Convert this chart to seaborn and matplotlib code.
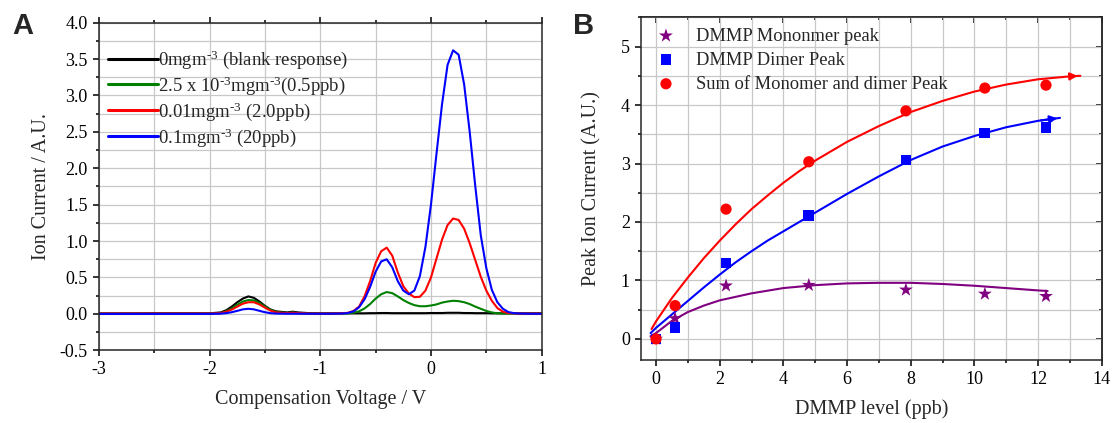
import numpy as np
import pandas as pd
import matplotlib
matplotlib.use("Agg")
import matplotlib.pyplot as plt
from matplotlib.ticker import MultipleLocator
import seaborn as sns

# ---- panel A: ion current vs compensation voltage ----
cv = [-3.0, -2.5, -2.0, -1.9, -1.85, -1.8, -1.75, -1.7, -1.65, -1.6,
      -1.55, -1.5, -1.45, -1.4, -1.3, -1.25, -1.2, -1.1, -1.0, -0.9,
      -0.8, -0.75, -0.7, -0.65, -0.6, -0.55, -0.5, -0.45, -0.4, -0.35,
      -0.3, -0.25, -0.2, -0.15, -0.1, -0.05, 0.0, 0.05, 0.1, 0.15,
      0.2, 0.25, 0.3, 0.35, 0.4, 0.45, 0.5, 0.55, 0.6, 0.65,
      0.7, 0.75, 0.8, 0.9, 1.0]

blank = [0.005, 0.008, 0.008, 0.02, 0.05, 0.10, 0.16, 0.21, 0.24, 0.22,
         0.17, 0.11, 0.06, 0.035, 0.02, 0.03, 0.02, 0.01, 0.008, 0.008,
         0.008, 0.008, 0.008, 0.008, 0.008, 0.01, 0.01, 0.012, 0.012, 0.01,
         0.01, 0.01, 0.01, 0.01, 0.01, 0.01, 0.012, 0.012, 0.012, 0.015,
         0.015, 0.015, 0.012, 0.012, 0.01, 0.01, 0.01, 0.008, 0.008, 0.008,
         0.008, 0.008, 0.008, 0.008, 0.008]

ppb05 = [0.005, 0.005, 0.005, 0.01, 0.035, 0.075, 0.125, 0.17, 0.19, 0.185,
         0.15, 0.10, 0.055, 0.025, 0.012, 0.02, 0.01, 0.005, 0.005, 0.005,
         0.005, 0.008, 0.015, 0.035, 0.075, 0.135, 0.21, 0.27, 0.30, 0.285,
         0.24, 0.19, 0.15, 0.12, 0.105, 0.105, 0.115, 0.13, 0.155, 0.17,
         0.18, 0.175, 0.16, 0.135, 0.10, 0.07, 0.04, 0.02, 0.008, 0.005,
         0.005, 0.005, 0.005, 0.005, 0.005]

ppb2 = [0.005, 0.005, 0.005, 0.01, 0.03, 0.06, 0.10, 0.14, 0.16, 0.16,
        0.13, 0.085, 0.045, 0.02, 0.01, 0.015, 0.01, 0.005, 0.005, 0.005,
        0.008, 0.015, 0.04, 0.10, 0.24, 0.45, 0.70, 0.86, 0.91, 0.80,
        0.57, 0.38, 0.28, 0.23, 0.235, 0.32, 0.50, 0.76, 1.02, 1.22,
        1.31, 1.29, 1.17, 0.97, 0.74, 0.51, 0.32, 0.18, 0.08, 0.03,
        0.012, 0.008, 0.005, 0.005, 0.005]

ppb20 = [0.0, 0.0, 0.0, 0.003, 0.01, 0.023, 0.042, 0.062, 0.07, 0.062,
         0.042, 0.023, 0.01, 0.004, 0.002, 0.002, 0.002, 0.002, 0.002, 0.002,
         0.005, 0.012, 0.035, 0.09, 0.20, 0.37, 0.58, 0.72, 0.75, 0.64,
         0.45, 0.32, 0.27, 0.32, 0.52, 0.92, 1.50, 2.20, 2.88, 3.42,
         3.62, 3.56, 3.15, 2.50, 1.76, 1.08, 0.63, 0.33, 0.16, 0.07,
         0.025, 0.01, 0.005, 0.002, 0.002]

labels_a = [r"0mgm$^{\text{-3}}$ (blank response)",
            r"2.5 x 10$^{\text{-3}}$mgm$^{\text{-3}}$(0.5ppb)",
            r"0.01mgm$^{\text{-3}}$ (2.0ppb)",
            r"0.1mgm$^{\text{-3}}$ (20ppb)"]
colors_a = ["#000000", "#008000", "#ff0000", "#0000ff"]

# ---- panel B: peak ion current vs DMMP level ----
level = [0, 0.6, 2.2, 4.8, 7.85, 10.33, 12.25]
monomer = [0.0, 0.35, 0.91, 0.92, 0.84, 0.77, 0.73]
dimer = [0.0, 0.20, 1.30, 2.11, 3.06, 3.52, 3.61]
total = [0.0, 0.57, 2.22, 3.03, 3.90, 4.29, 4.34]

fit_sum_x = [-0.14, 0, 0.5, 1, 1.5, 2, 2.5, 3, 3.5, 4, 4.5, 5, 6, 7, 8, 9,
             10, 11, 12, 13, 13.33]
fit_sum_y = [0.17, 0.30, 0.70, 1.05, 1.38, 1.68, 1.96, 2.22, 2.45, 2.67, 2.87,
             3.05, 3.37, 3.64, 3.88, 4.07, 4.23, 4.35, 4.44, 4.49, 4.50]
fit_dim_x = [-0.17, 0, 0.5, 1, 1.5, 2, 2.5, 3, 3.5, 4, 5, 6, 7, 8, 9, 10,
             11, 12, 12.69]
fit_dim_y = [0.10, 0.19, 0.42, 0.65, 0.88, 1.10, 1.31, 1.50, 1.68, 1.84, 2.16,
             2.48, 2.78, 3.06, 3.29, 3.47, 3.62, 3.73, 3.78]
fit_mon_x = [-0.17, 0, 0.5, 1, 1.5, 2, 3, 4, 5, 6, 7, 8, 9, 10, 11, 12, 12.3]
fit_mon_y = [0.05, 0.10, 0.31, 0.46, 0.57, 0.66, 0.78, 0.87, 0.92, 0.95,
             0.96, 0.96, 0.94, 0.91, 0.87, 0.83, 0.82]

purple = "#800080"

sns.set_theme(style="ticks")
plt.rcParams["font.family"] = ["Liberation Serif", "DejaVu Serif"]
plt.rcParams["mathtext.fontset"] = "custom"
plt.rcParams["mathtext.rm"] = "Liberation Serif"
plt.rcParams["mathtext.it"] = "Liberation Serif:italic"
plt.rcParams["axes.unicode_minus"] = False
plt.rcParams["axes.linewidth"] = 1.1
plt.rcParams["xtick.color"] = "black"
plt.rcParams["ytick.color"] = "black"

fig = plt.figure(figsize=(11.17, 4.23), dpi=100)
ax1 = fig.add_axes([0.0886, 0.1719, 0.3963, 0.7745])
ax2 = fig.add_axes([0.5739, 0.1489, 0.4124, 0.8102])

grid_kw = dict(color="#c8c8c8", linewidth=0.9)

# panel A
df_a = pd.DataFrame({"cv": cv, "blank": blank, "ppb05": ppb05,
                     "ppb2": ppb2, "ppb20": ppb20})
for col, lab, c in zip(["blank", "ppb05", "ppb2", "ppb20"], labels_a, colors_a):
    sns.lineplot(data=df_a, x="cv", y=col, ax=ax1, color=c, linewidth=1.5,
                 label=lab, sort=False)

ax1.set_xlim(-3, 1)
ax1.set_ylim(-0.5, 4.0)
ax1.xaxis.set_major_locator(MultipleLocator(1))
ax1.xaxis.set_minor_locator(MultipleLocator(0.5))
ax1.yaxis.set_major_locator(MultipleLocator(0.5))
ax1.yaxis.set_minor_locator(MultipleLocator(0.25))
ax1.yaxis.set_major_formatter(matplotlib.ticker.FormatStrFormatter("%.1f"))
ax1.grid(True, which="both", **grid_kw)
ax1.set_axisbelow(True)
ax1.tick_params(which="both", direction="out", top=True, right=False,
                labelsize=13, width=1.1)
ax1.tick_params(which="major", length=4.5)
ax1.tick_params(which="minor", length=2.5)
ax1.set_xlabel("Compensation Voltage / V", fontsize=14.5, labelpad=8)
ax1.set_ylabel("Ion Current / A.U.", fontsize=14.5, labelpad=6)
leg1 = ax1.legend(loc="upper left", bbox_to_anchor=(0.02, 0.92), frameon=False,
                  fontsize=13.5, handlelength=2.7, handletextpad=0.0,
                  labelspacing=0.17, borderpad=0, borderaxespad=0)
for h in leg1.get_lines():
    h.set_linewidth(2.2)

# panel B
sns.lineplot(x=fit_sum_x, y=fit_sum_y, ax=ax2, color="#ff0000", linewidth=1.5, sort=False)
sns.lineplot(x=fit_dim_x, y=fit_dim_y, ax=ax2, color="#0000ff", linewidth=1.5, sort=False)
sns.lineplot(x=fit_mon_x, y=fit_mon_y, ax=ax2, color=purple, linewidth=1.5, sort=False)
for fx, fy, c in [(fit_sum_x, fit_sum_y, "#ff0000"), (fit_dim_x, fit_dim_y, "#0000ff")]:
    ax2.annotate("", xy=(fx[-1], fy[-1]), xytext=(fx[-2], fy[-2]),
                 arrowprops=dict(arrowstyle="-|>", color=c, lw=1.5, mutation_scale=11))

sns.scatterplot(x=level, y=monomer, ax=ax2, marker="*", s=110, color=purple,
                edgecolor="none", label="DMMP Mononmer peak", zorder=4)
sns.scatterplot(x=level, y=dimer, ax=ax2, marker="s", s=60, color="#0000ff",
                edgecolor="none", label="DMMP Dimer Peak", zorder=4)
sns.scatterplot(x=level, y=total, ax=ax2, marker="o", s=65, color="#ff0000",
                edgecolor="none", label="Sum of Monomer and dimer Peak", zorder=4)

ax2.set_xlim(-0.47, 14)
ax2.set_ylim(-0.36, 5.5)
ax2.xaxis.set_major_locator(MultipleLocator(2))
ax2.xaxis.set_minor_locator(MultipleLocator(1))
ax2.yaxis.set_major_locator(MultipleLocator(1))
ax2.yaxis.set_minor_locator(MultipleLocator(0.5))
ax2.grid(True, which="both", **grid_kw)
ax2.set_axisbelow(True)
ax2.tick_params(which="both", direction="out", labelsize=13, width=1.1)
ax2.tick_params(which="major", length=4.5)
ax2.tick_params(which="minor", length=2.5)
sx = ax2.secondary_xaxis("top")
sy = ax2.secondary_yaxis("right")
for sec in (sx, sy):
    sec.tick_params(which="both", direction="in", width=1.1, length=4.5)
    sec.tick_params(which="minor", length=2.5)
sx.xaxis.set_major_locator(MultipleLocator(2))
sx.xaxis.set_minor_locator(MultipleLocator(1))
sy.yaxis.set_major_locator(MultipleLocator(1))
sy.yaxis.set_minor_locator(MultipleLocator(0.5))
sx.set_xticklabels([])
sy.set_yticklabels([])
ax2.set_xlabel("DMMP level (ppb)", fontsize=14.5, labelpad=8)
ax2.set_ylabel("Peak Ion Current (A.U.)", fontsize=14.5, labelpad=14)
ax2.legend(loc="upper left", bbox_to_anchor=(0.03, 0.97), frameon=False,
           fontsize=13.3, handlelength=1.2, handletextpad=1.0,
           labelspacing=0.38, borderpad=0, borderaxespad=0)

fig.text(0.0107, 0.972, "A", fontsize=21, fontweight="bold",
         family="Liberation Sans", va="top", ha="left")
fig.text(0.513, 0.972, "B", fontsize=21, fontweight="bold",
         family="Liberation Sans", va="top", ha="left")

fig.savefig("out.png", dpi=100)
